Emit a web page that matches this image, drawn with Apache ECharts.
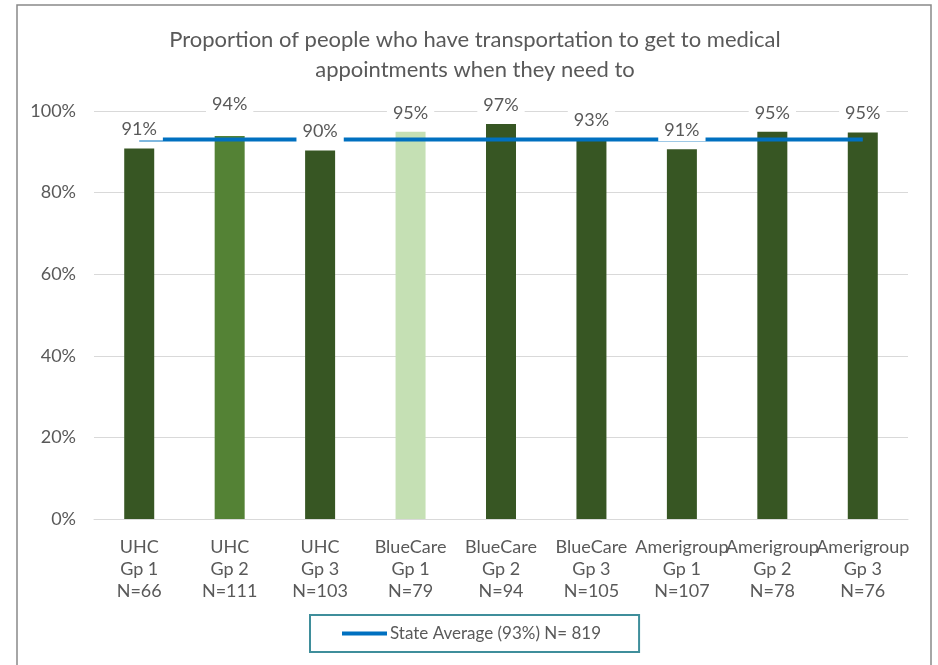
<!DOCTYPE html>
<html>
<head>
<meta charset="utf-8">
<script src="https://cdn.jsdelivr.net/npm/echarts@6/dist/echarts.min.js"></script>
<style>
html,body{margin:0;padding:0;background:#fff;}
#chart{width:938px;height:665px;}
</style>
</head>
<body>
<div id="chart"></div>
<script>
var categories = ['UHC\nGp 1\nN=66','UHC\nGp 2\nN=111','UHC\nGp 3\nN=103','BlueCare\nGp 1\nN=79','BlueCare\nGp 2\nN=94','BlueCare\nGp 3\nN=105','Amerigroup\nGp 1\nN=107','Amerigroup\nGp 2\nN=78','Amerigroup\nGp 3\nN=76'];
var values = [90.8, 93.9, 90.3, 94.9, 96.8, 93.0, 90.6, 94.9, 94.7];
var stateAverage = 93;
var yTicks = [0, 20, 40, 60, 80, 100];
var barColors = ['#375623','#548235','#375623','#C5E0B4','#375623','#375623','#375623','#375623','#375623'];

var FONT = 'Lato, "Open Sans", sans-serif';
var TXT = '#595959';

var chart = echarts.init(document.getElementById('chart'));
var option = {
  animation: false,
  backgroundColor: '#fff',
  title: {
    text: 'Proportion of people who have transportation to get to medical\nappointments when they need to',
    left: 470, top: 20, textAlign: 'center',
    textStyle: {color: TXT, fontSize: 22, fontWeight: 'normal', fontFamily: FONT, lineHeight: 30}
  },
  grid: {left: 94, right: 30, top: 111, bottom: 146},
  legend: {
    data: ['State Average (93%) N= 819'],
    top: 615, left: 310,
    borderColor: '#3F8E9B', borderWidth: 2, padding: [10, 38, 10, 32],
    icon: 'rect', itemWidth: 45, itemHeight: 4, itemGap: 0,
    textStyle: {color: TXT, fontSize: 17, fontFamily: FONT, padding: [0,0,0,-2]}
  },
  xAxis: {
    type: 'category', data: categories,
    axisLine: {lineStyle: {color: '#D9D9D9', width: 1}},
    axisTick: {show: false},
    axisLabel: {interval: 0, color: TXT, fontSize: 18, fontFamily: FONT, lineHeight: 22, margin: 17}
  },
  yAxis: {
    type: 'value', min: 0, max: 100, interval: 20,
    axisLabel: {color: TXT, fontSize: 18, fontFamily: FONT, margin: 18,
      formatter: function(v){ return yTicks.indexOf(v) >= 0 ? v + '%' : ''; }},
    splitLine: {lineStyle: {color: '#D9D9D9', width: 1}},
    axisLine: {show: false}, axisTick: {show: false}
  },
  graphic: [{
    type: 'rect', shape: {x: 17, y: 5, width: 914, height: 700},
    style: {fill: 'none', stroke: '#898989', lineWidth: 1.5}, silent: true, z: -1
  }],
  series: [
    {
      type: 'bar', barWidth: 30, z: 1,
      data: values.map(function(v, i){ return {value: v, itemStyle: {color: barColors[i]}}; })
    },
    {
      name: 'State Average (93%) N= 819',
      type: 'line', z: 2, symbol: 'none',
      data: categories.map(function(){ return stateAverage; }),
      lineStyle: {color: '#0070C0', width: 4},
      itemStyle: {color: '#0070C0'}
    },
    {
      type: 'bar', barWidth: 30, barGap: '-100%', z: 3,
      itemStyle: {color: 'rgba(0,0,0,0)'},
      data: values.map(function(v, i){
        var d = {value: v};
        if (i === 1) d.label = {distance: 21};
        return d;
      }),
      label: {
        show: true, position: 'top', distance: 8,
        formatter: function(p){ return Math.round(p.value) + '%'; },
        color: TXT, fontSize: 18, fontFamily: FONT,
        backgroundColor: '#fff', padding: [2, 6, 2, 6]
      }
    }
  ]
};
chart.setOption(option);
</script>
</body>
</html>
